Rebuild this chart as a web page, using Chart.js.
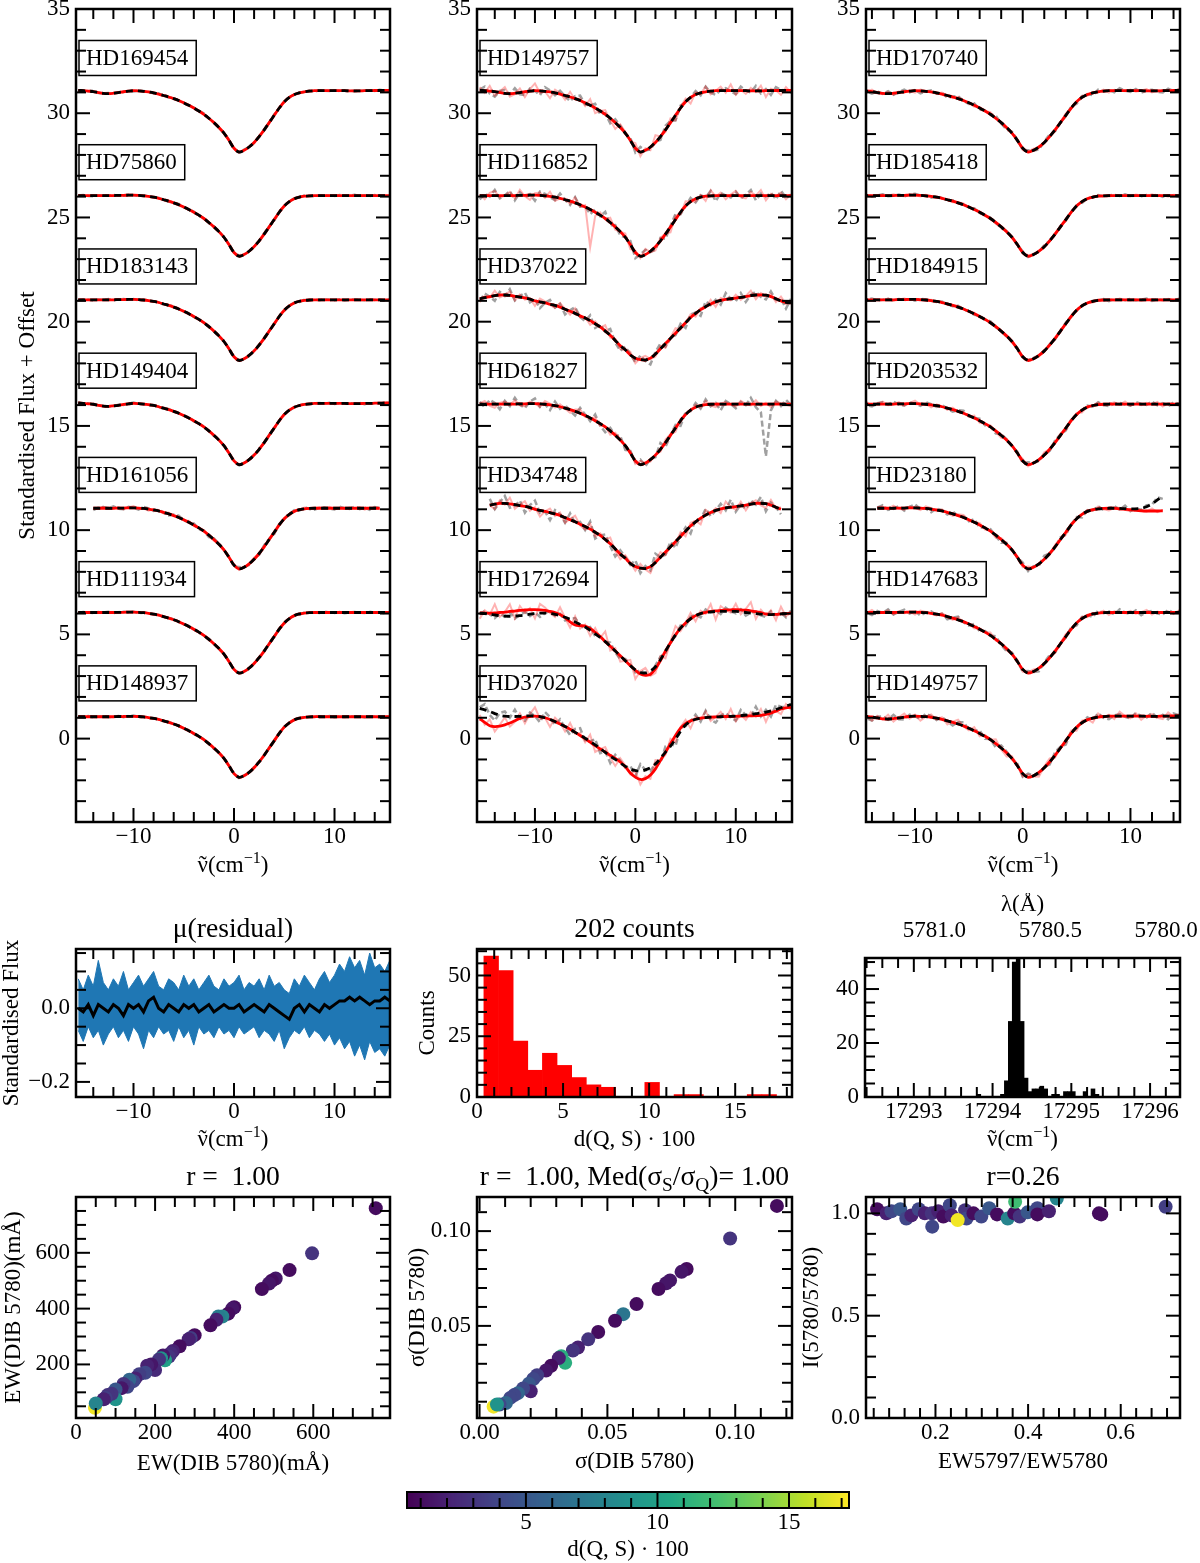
<!DOCTYPE html>
<html><head><meta charset="utf-8">
<script src="https://cdn.jsdelivr.net/npm/chart.js@4.4.1/dist/chart.umd.min.js"></script>
<style>html,body{margin:0;background:#fff}#fig{position:relative;width:1200px;height:1563px;overflow:hidden;background:#fff}canvas{position:absolute}</style>
</head><body><div id="fig"></div><script>
// wavenumber grid shared by all spectra (cm^-1)
const XS = [-15.5,-15,-14.5,-14,-13.5,-13,-12.5,
  -12,-11.5,-11,-10.5,-10,-9.5,-9,
  -8.5,-8,-7.5,-7,-6.5,-6,-5.5,
  -5,-4.5,-4,-3.5,-3,-2.5,-2,
  -1.5,-1,-0.5,0,0.5,1,1.5,
  2,2.5,3,3.5,4,4.5,5,
  5.5,6,6.5,7,7.5,8,8.5,
  9,9.5,10,10.5,11,11.5,12,
  12.5,13,13.5,14,14.5,15,15.5];

// profile shapes (flux without the offset)
const PROF_A = [1.10,1.08,1.06,1.04,0.99,0.95,0.94,
  0.96,0.99,1.03,1.06,1.08,1.07,1.05,
  1.02,0.98,0.92,0.85,0.78,0.70,0.61,
  0.50,0.38,0.25,0.11,-0.05,-0.24,-0.45,
  -0.68,-0.95,-1.30,-1.68,-1.86,-1.78,-1.62,
  -1.40,-1.12,-0.80,-0.45,-0.10,0.25,0.55,
  0.76,0.90,0.98,1.03,1.06,1.08,1.08,
  1.08,1.08,1.08,1.08,1.08,1.07,1.07,
  1.07,1.08,1.08,1.09,1.09,1.10,1.10];
const PROF_B = [1.05,1.05,1.05,1.05,1.05,1.05,1.05,
  1.05,1.06,1.06,1.07,1.07,1.06,1.04,
  1.01,0.97,0.92,0.85,0.78,0.70,0.61,
  0.50,0.38,0.25,0.11,-0.05,-0.24,-0.45,
  -0.68,-0.95,-1.30,-1.68,-1.86,-1.78,-1.62,
  -1.40,-1.12,-0.80,-0.45,-0.10,0.25,0.55,
  0.76,0.90,0.98,1.02,1.04,1.05,1.05,
  1.05,1.05,1.05,1.05,1.05,1.05,1.05,
  1.05,1.05,1.05,1.05,1.05,1.05,1.05];
const PROF_W = [1.10,1.15,1.20,1.25,1.28,1.28,1.26,
  1.22,1.18,1.14,1.08,1.00,0.95,0.90,
  0.84,0.78,0.70,0.60,0.50,0.40,0.28,
  0.18,0.05,-0.10,-0.25,-0.45,-0.65,-0.90,
  -1.15,-1.35,-1.60,-1.75,-1.82,-1.84,-1.75,
  -1.55,-1.30,-1.05,-0.80,-0.55,-0.30,-0.05,
  0.20,0.40,0.58,0.72,0.85,0.95,1.02,
  1.07,1.10,1.13,1.17,1.20,1.25,1.28,
  1.29,1.27,1.20,1.10,1.00,0.93,0.90];
const RED_172694 = [1.03,1.02,1.02,1.03,1.05,1.07,1.10,
  1.12,1.15,1.17,1.19,1.19,1.18,1.15,
  1.10,1.05,0.95,0.80,0.60,0.45,0.42,
  0.40,0.28,0.10,-0.10,-0.35,-0.57,-0.80,
  -1.03,-1.27,-1.50,-1.72,-1.90,-1.96,-1.92,
  -1.65,-1.25,-0.80,-0.40,-0.02,0.30,0.55,
  0.75,0.90,1.00,1.06,1.10,1.13,1.15,
  1.17,1.18,1.19,1.18,1.16,1.13,1.09,
  1.04,0.98,0.95,0.96,0.98,1.00,1.02];
const FIT_172694 = [1.02,1.00,0.97,0.93,0.90,0.88,0.87,
  0.88,0.90,0.93,0.97,1.00,1.02,1.02,
  1.00,0.96,0.90,0.82,0.72,0.60,0.48,
  0.35,0.20,0.03,-0.15,-0.35,-0.57,-0.80,
  -1.03,-1.27,-1.50,-1.70,-1.83,-1.85,-1.75,
  -1.55,-1.22,-0.80,-0.40,-0.02,0.30,0.55,
  0.75,0.90,1.00,1.05,1.08,1.10,1.10,
  1.10,1.10,1.10,1.08,1.05,1.02,1.00,
  0.97,0.95,0.95,0.96,0.98,1.00,1.02];
const RED_37020 = [0.95,0.78,0.62,0.58,0.60,0.66,0.75,
  0.86,0.97,1.03,1.06,1.08,1.06,1.00,
  0.92,0.82,0.70,0.58,0.45,0.30,0.15,
  0.00,-0.17,-0.34,-0.50,-0.64,-0.80,-0.95,
  -1.12,-1.35,-1.65,-1.85,-1.96,-1.92,-1.75,
  -1.45,-1.05,-0.65,-0.25,0.15,0.50,0.72,
  0.85,0.93,0.98,1.01,1.03,1.04,1.05,
  1.06,1.06,1.07,1.08,1.08,1.09,1.10,
  1.12,1.16,1.22,1.32,1.42,1.48,1.50];
const FIT_37020 = [1.45,1.38,1.30,1.20,1.12,1.08,1.06,
  1.06,1.07,1.08,1.09,1.08,1.06,1.00,
  0.92,0.82,0.70,0.58,0.45,0.30,0.17,
  0.02,-0.13,-0.30,-0.48,-0.66,-0.84,-1.00,
  -1.17,-1.33,-1.47,-1.53,-1.56,-1.50,-1.40,
  -1.22,-0.95,-0.65,-0.36,-0.02,0.35,0.65,
  0.83,0.93,0.98,1.01,1.03,1.04,1.05,
  1.06,1.07,1.08,1.10,1.13,1.16,1.20,
  1.23,1.27,1.33,1.40,1.48,1.56,1.64];
const FIT_23180 = PROF_B.slice(0, 49).concat([1.04,1.03,1.02,1.02,1.05,1.12,1.25, 1.45,1.65,1.78,1.85,1.85,1.85,1.85]);
const RED_23180 = PROF_B.slice(0, 49).concat([1.02,1.00,0.98,0.95,0.93,0.92,0.92, 0.92,0.93,0.93,0.93,0.93,0.93,0.93]);

// hand-read noise patterns (arbitrary units, scaled per star)
const N1 = [3,-2,5,-4,1,6,-3, -1,4,-5,2,7,-2,0, -6,3,1,-4,5,-1,2, -3,6,-5,0,4,-2,-6, 3,1,-1,5,-4,2,-3, 7,0,-2,4,-5,1,3, -6,2,-1,5,-3,0,4, -2,6,-4,1,-3,3,-1, 5,-6,2,0,-4,3,-2];
const N2 = [-4,2,-1,6,-3,0,5, -5,3,-2,1,-6,4,2, -1,-3,5,0,-4,6,-2, 1,-5,3,-1,7,-3,2, -4,0,4,-6,2,5,-1, -3,3,-5,1,6,-2,0, 4,-4,2,-1,5,-6,3, 0,-2,4,-3,1,6,-5, 2,-1,3,-4,5,-2,1];
const N3 = [1,5,-3,-6,2,4,-1, 6,-2,-4,3,0,-5,5, 2,-3,4,-1,-5,3,6, -2,0,5,-4,1,-6,4, 2,-1,3,-5,6,0,-3, 1,-4,5,2,-6,3,-1, 0,4,-3,6,-2,-5,1, 3,-1,-4,5,0,-2,6, -3,2,-5,4,1,-1,-3];
const N4 = [-2,4,0,-5,3,-1,6, -4,1,5,-3,2,-6,0, 4,-2,3,-5,1,6,-1, -3,5,-4,2,0,6,-2, -5,3,1,-4,4,-1,-6, 2,5,-3,0,-2,4,-5, 3,1,-6,5,-1,2,-4, 6,0,-3,4,-5,1,3, -2,-4,5,-1,2,-6,4];
const N5 = [2,-3,4,1,-5,3,-2, 6,-1,-4,2,5,-3,0, -5,4,-2,3,-1,-4,5, 1,-3,6,-2,-5,3,0, 4,-4,2,-1,5,-3,1, -2,6,-4,0,3,-5,2, -1,4,-3,5,-2,1,-6, 3,0,-4,2,-1,6,-3, -8,-50,-6,3,-2,4,-1];
const N6 = [1,-4,3,5,-2,0,4, -3,6,-1,-5,2,3,-2, 5,-4,0,1,-3,6,-2, 2,-40,-4,3,-1,5,-3, 0,4,-5,2,-2,6,-1, -4,3,1,-6,4,-2,5, 0,-3,2,-5,6,-1,3, -4,1,5,-2,-3,4,0, 6,-5,2,-1,3,-4,1];

const OFFSETS = [30, 25, 20, 15, 10, 5, 0];
const LABEL_DY = 2.65;

const NAMES_L = ['HD169454','HD75860','HD183143','HD149404','HD161056','HD111934','HD148937'];
const RED_L = [PROF_A, PROF_B, PROF_B, PROF_A, PROF_B, PROF_B, PROF_B];
const FIT_L = RED_L;
const PINK_AMP_L = [0, 0, 0, 0, 0.012, 0, 0];
const GREY_AMP_L = [0.006, 0.006, 0.006, 0.006, 0.015, 0.006, 0.006];
const PINK_N_L = [N1, N2, N3, N4, N1, N2, N3];
const GREY_N_L = [N2, N3, N4, N1, N3, N4, N1];
const RANGE_L = [[0,62],[0,62],[0,62],[0,62],[3,60],[0,62],[0,62]];

const NAMES_M = ['HD149757','HD116852','HD37022','HD61827','HD34748','HD172694','HD37020'];
const RED_M = [PROF_A, PROF_B, PROF_W, PROF_B, PROF_W, RED_172694, RED_37020];
const FIT_M = [PROF_A, PROF_B, PROF_W, PROF_B, PROF_W, FIT_172694, FIT_37020];
const PINK_AMP_M = [0.05, 0.045, 0.04, 0.03, 0.05, 0.07, 0.06];
const GREY_AMP_M = [0.04, 0.045, 0.05, 0.05, 0.06, 0.03, 0.055];
const PINK_N_M = [N1, N6, N2, N3, N4, N2, N1];
const GREY_N_M = [N3, N2, N4, N5, N1, N4, N3];
const RANGE_M = [[0,62],[0,62],[0,62],[0,62],[2,60],[0,62],[0,62]];

const NAMES_R = ['HD170740','HD185418','HD184915','HD203532','HD23180','HD147683','HD149757'];
const RED_R = [PROF_A, PROF_B, PROF_B, PROF_B, RED_23180, PROF_B, PROF_A];
const FIT_R = [PROF_A, PROF_B, PROF_B, PROF_B, FIT_23180, PROF_B, PROF_A];
const PINK_AMP_R = [0.015, 0.01, 0.01, 0.02, 0.02, 0.02, 0.035];
const GREY_AMP_R = [0.02, 0.01, 0.01, 0.02, 0.025, 0.025, 0.03];
const PINK_N_R = [N2, N3, N4, N1, N3, N2, N4];
const GREY_N_R = [N4, N1, N2, N3, N1, N4, N3];
const RANGE_R = [[0,62],[0,62],[0,62],[0,62],[4,57],[0,62],[0,62]];

// mean residual and its spread (hundredths)
const RES_MEAN = [0,-1,1,-2,1,0,-1, 1,0,-2,1,0,1,-1, 2,3,0,-1,1,0,-1, 1,0,1,-1,0,1,-1, 0,1,0,0,1,-1,0, 1,0,-1,1,0,-1,-2, -3,0,1,-1,1,0,-1, 1,0,1,2,2,3,2, 3,2,1,2,2,3,2];
const RES_HI = [8,5,9,6,13,7,5, 8,6,10,5,7,9,6, 8,10,6,5,8,7,5, 9,6,8,5,7,9,6, 5,8,6,7,9,5,7, 6,8,5,9,6,7,5, 4,8,6,9,7,5,8, 10,7,9,12,10,14,11, 13,9,15,11,12,10,13];
const RES_LO = [-6,-9,-5,-8,-6,-10,-7, -5,-8,-6,-9,-5,-7,-11, -6,-8,-5,-7,-6,-9,-5, -8,-6,-10,-5,-7,-6,-8, -5,-7,-6,-8,-5,-7,-6, -5,-8,-6,-7,-9,-6,-11, -8,-6,-7,-5,-8,-6,-7, -9,-7,-10,-8,-11,-9,-13, -10,-14,-9,-12,-11,-13,-10];

// histograms
const HIST1_CENTERS = [0.825,1.675,2.525,3.375,4.225,5.075,5.925,6.775,7.625,8.475,9.325,10.175,11.025,11.875,12.725,13.575,14.425,15.275,16.125,16.975];
const HIST1_COUNTS = [58,52,23,11,18,13,8,5,4,0,0,6,0,1,1,0,0,0,1,1];
const HIST2_CENTERS = [17293.825,17294.125,17294.175,17294.225,17294.275,17294.325,17294.375,17294.425,17294.475,17294.525,17294.575,17294.625,17294.675,17294.775,17294.825,17294.925,17294.975,17295.025,17295.175,17295.275,17295.325];
const HIST2_COUNTS = [1,1,6,28,50,52,28,7,2,3,3,4,3,1,1,2,2,2,2,3,1];

// scatter panels
const EW_Q = [758,597,540,505,495,488,470,400,395,385,370,360,355,340,300,290,285,262,245,240,235,225,220,215,210,200,190,180,175,160,150,145,135,130,120,115,100,100,90,80,75,70,48,50];
const EW_S = [760,598,538,508,500,490,470,405,400,382,372,372,360,340,305,295,290,265,248,240,228,215,232,222,218,180,200,195,170,165,150,140,145,120,130,115,110,75,95,90,80,75,45,60];
const EW_D = [1,3,1,1.5,1,1.5,1,1,1.5,1,8,7.5,2,1,1,3.5,2,1,2,2.5,3,10,1.5,9,3,2.5,1.5,2,4,3.5,2,4,6,4,3,1.5,5,9,3,3,3.5,2,17,8];
const SIG_Q = [0.1163,0.098,0.081,0.079,0.0745,0.073,0.070,0.0614,0.0562,0.053,0.0464,0.0425,0.0385,0.0365,0.0335,0.032,0.031,0.028,0.026,0.0225,0.021,0.0193,0.020,0.017,0.015,0.0136,0.0120,0.0103,0.0078,0.0055,0.0068];
const SIG_S = [0.1133,0.0961,0.080,0.0785,0.074,0.0725,0.0695,0.0615,0.0562,0.0527,0.0468,0.0429,0.0386,0.0370,0.0305,0.034,0.033,0.029,0.0265,0.024,0.022,0.0195,0.0155,0.017,0.0145,0.0135,0.012,0.0093,0.0085,0.0074,0.0085];
const SIG_D = [1,3,1,1.5,1.5,1.5,1,1,7,1,1,3,2,3,11,11,2,1,1.5,3.5,4,5,2,4,6,4,4,6,4,17,9];
const RAT_X = [0.074,0.094,0.105,0.124,0.137,0.148,0.164,0.177,0.192,0.193,0.206,0.217,0.231,0.235,0.264,0.267,0.282,0.299,0.316,0.333,0.356,0.37,0.372,0.382,0.399,0.42,0.42,0.445,0.462,0.553,0.558,0.697,0.248];
const RAT_Y = [1.02,1.0,1.01,1.02,0.975,0.99,1.02,1.0,1.0,0.935,1.01,0.985,1.04,0.99,1.015,0.975,1.0,0.985,1.025,0.995,0.975,1.0,1.057,0.985,1.005,1.025,0.995,1.01,1.073,1.0,0.995,1.032,0.967];
const RAT_D = [1,2,4,5,4,2,4,2,3,4,2,1,4,2,3,4,1,4,5,1,8,1,12,3,5,4,1,2,8,1,1,3.5,17];
const CB_MIN = 0.48, CB_MAX = 17.28;

const SERIF = "'Liberation Serif','DejaVu Serif',serif";
Chart.defaults.font.family = SERIF;
Chart.defaults.font.size = 23;
Chart.defaults.color = '#000';

const VIR = ['#440154','#482475','#414487','#355f8d','#2a788e','#21918c','#22a884','#44bf70','#7ad151','#bddf26','#fde725'];
function hexRgb(h) { return [1,3,5].map(i => parseInt(h.substr(i, 2), 16)); }
function viridis(t) {
    t = Math.max(0, Math.min(1, t));
    const s = t * 10, i = Math.min(9, Math.floor(s)), f = s - i;
    const a = hexRgb(VIR[i]), b = hexRgb(VIR[i + 1]);
    return 'rgb(' + a.map((v, k) => Math.round(v + (b[k] - v) * f)).join(',') + ')';
}
function dColor(d) { return viridis((d - CB_MIN) / (CB_MAX - CB_MIN)); }

// text with optional sub/superscripts and a tilde accent
function drawRich(ctx, parts, x, y, size, rot) {
    ctx.save();
    ctx.translate(x, y);
    if (rot) ctx.rotate(rot);
    const small = p => p[1] === 'sup' || p[1] === 'sub';
    let w = 0;
    parts.forEach(p => { ctx.font = (small(p) ? size * 0.7 : size) + 'px ' + SERIF; w += ctx.measureText(p[0]).width; });
    let cx = -w / 2;
    ctx.textBaseline = 'middle';
    ctx.textAlign = 'left';
    ctx.fillStyle = '#000';
    parts.forEach(p => {
        ctx.font = (small(p) ? size * 0.7 : size) + 'px ' + SERIF;
        const dy = p[1] === 'sup' ? -size * 0.33 : (p[1] === 'sub' ? size * 0.28 : 0);
        const pw = ctx.measureText(p[0]).width;
        ctx.fillText(p[0], cx, dy);
        if (p[1] === 'acc') {
            ctx.textAlign = 'center';
            ctx.fillText('\u02DC', cx + pw / 2, 0);
            ctx.textAlign = 'left';
        }
        cx += pw;
    });
    ctx.restore();
}

// frame, inward ticks on all sides, label boxes and titles
function makeDeco(o) {
    return {
        id: 'deco',
        beforeDatasetsDraw(chart) {
            if (!o.cbar) return;
            const a = chart.chartArea, xs = chart.scales.x, ctx = chart.ctx;
            for (let p = Math.floor(a.left); p < a.right; p++) {
                ctx.fillStyle = dColor(xs.getValueForPixel(p + 0.5));
                ctx.fillRect(p, a.top, 1.5, a.bottom - a.top);
            }
        },
        afterDatasetsDraw(chart) {
            const ctx = chart.ctx, a = chart.chartArea;
            const xs = chart.scales.x, ys = chart.scales.y;
            ctx.save();
            if (o.names) {
                ctx.font = '23px ' + SERIF;
                ctx.textBaseline = 'middle';
                ctx.textAlign = 'left';
                o.names.forEach((n, i) => {
                    const y = ys.getPixelForValue(OFFSETS[i] + LABEL_DY);
                    const w = ctx.measureText(n).width;
                    ctx.fillStyle = '#fff';
                    ctx.fillRect(a.left + 3, y - 17.5, w + 15, 35);
                    ctx.lineWidth = 1.5;
                    ctx.strokeStyle = '#000';
                    ctx.strokeRect(a.left + 3, y - 17.5, w + 15, 35);
                    ctx.fillStyle = '#000';
                    ctx.fillText(n, a.left + 10, y + 1);
                });
            }
            ctx.strokeStyle = '#000';
            ctx.lineWidth = 2;
            const seg = (x1, y1, x2, y2) => { ctx.beginPath(); ctx.moveTo(x1, y1); ctx.lineTo(x2, y2); ctx.stroke(); };
            const minors = (sc, step, maj) => {
                const out = [];
                if (!step) return out;
                const lo = Math.min(sc.min, sc.max), hi = Math.max(sc.min, sc.max);
                for (let k = Math.ceil(lo / step - 1e-6); k * step <= hi + 1e-9; k++) {
                    const v = k * step;
                    if (!maj.some(m => Math.abs(m - v) < step * 0.01)) out.push(v);
                }
                return out;
            };
            const majX = xs.ticks.map(t => t.value), majY = ys.ticks.map(t => t.value);
            const ML = o.cbar ? (a.bottom - a.top) : 14, mL = 10;
            const xt = (v, len) => {
                const p = xs.getPixelForValue(v);
                if (p < a.left - 0.5 || p > a.right + 0.5) return;
                seg(p, a.bottom, p, a.bottom - len);
                if (!o.cbar) seg(p, a.top, p, a.top + len);
            };
            const yt = (v, len) => {
                const p = ys.getPixelForValue(v);
                if (p < a.top - 0.5 || p > a.bottom + 0.5) return;
                seg(a.left, p, a.left + len, p);
                seg(a.right, p, a.right - len, p);
            };
            majX.forEach(v => xt(v, ML));
            minors(xs, o.minorX, majX).forEach(v => xt(v, mL));
            if (!o.cbar) {
                majY.forEach(v => yt(v, ML));
                minors(ys, o.minorY, majY).forEach(v => yt(v, mL));
            }
            ctx.lineWidth = o.cbar ? 2 : 2.5;
            ctx.strokeRect(a.left, a.top, a.right - a.left, a.bottom - a.top);
            const cx = (a.left + a.right) / 2, cy = (a.top + a.bottom) / 2;
            if (o.title) drawRich(ctx, o.title.parts, cx, a.top - o.title.dy, o.title.size || 27.6, 0);
            if (o.xlabel) drawRich(ctx, o.xlabel.parts, cx, a.bottom + o.xlabel.dy, 23, 0);
            if (o.ylabel) drawRich(ctx, o.ylabel.parts, a.left - o.ylabel.dx, cy, 23, -Math.PI / 2);
            ctx.restore();
        }
    };
}

function axis(s, pos, size) {
    const horiz = pos === 'bottom' || pos === 'top';
    return {
        type: 'linear', position: pos, min: s.min, max: s.max, reverse: !!s.reverse, offset: false,
        display: !s.hidden,
        grid: { display: false, drawTicks: false },
        border: { display: false },
        ticks: {
            padding: s.pad != null ? s.pad : (horiz ? 1 : 6), autoSkip: false, maxRotation: 0,
            color: '#000', font: { size: 23, family: SERIF },
            callback: v => Number(v).toFixed(s.dec || 0).replace('-', '\u2212')
        },
        afterBuildTicks: sc => { sc.ticks = (s.ticks || []).map(v => ({ value: v })); },
        afterFit: sc => {
            if (horiz) sc.height = size; else sc.width = size;
            sc.paddingLeft = sc.paddingRight = sc.paddingTop = sc.paddingBottom = 0;
        }
    };
}

function makePanel(f, type, datasets, sx, sy, deco, top) {
    const x0 = Math.max(0, f.l - 80), y0 = Math.max(0, f.t - 65);
    const x1 = Math.min(1200, f.r + 30), y1 = Math.min(1563, f.b + 70);
    const cv = document.createElement('canvas');
    cv.width = x1 - x0;
    cv.height = y1 - y0;
    cv.style.left = x0 + 'px';
    cv.style.top = y0 + 'px';
    document.getElementById('fig').appendChild(cv);
    const YW = sy.hidden ? 0 : 60, XH = 40, TH = top ? 45 : 0;
    const scales = { x: axis(sx, 'bottom', XH), y: axis(sy, 'left', YW) };
    if (top) scales.x2 = axis(top, 'top', TH);
    deco.minorX = sx.minor;
    deco.minorY = sy.minor;
    datasets.forEach((d, i) => { d.order = datasets.length - i; if (d.clip === undefined) d.clip = 0; });
    return new Chart(cv, {
        type: type,
        data: { datasets: datasets },
        options: {
            responsive: false, animation: false, events: [],
            layout: { padding: { left: f.l - x0 - YW, right: x1 - f.r, top: f.t - y0 - TH, bottom: y1 - f.b - XH } },
            plugins: { legend: { display: false }, tooltip: { enabled: false } },
            scales: scales
        },
        plugins: [makeDeco(deco)]
    });
}

function spectra(names, reds, fits, pinkN, pinkA, greyN, greyA, ranges) {
    const ds = [];
    names.forEach((n, k) => {
        const off = OFFSETS[k], i0 = ranges[k][0], i1 = ranges[k][1];
        const xs = XS.slice(i0, i1 + 1);
        const pts = arr => xs.map((x, j) => ({ x: x, y: off + arr[i0 + j] }));
        const noisy = (arr, nz, amp) => xs.map((x, j) => ({ x: x, y: off + arr[i0 + j] + nz[i0 + j] * amp }));
        if (greyA[k]) ds.push({ data: noisy(fits[k], greyN[k], greyA[k]), borderColor: 'rgba(128,128,128,0.75)', borderWidth: 2.5, borderDash: [6, 3], pointRadius: 0, tension: 0 });
        if (pinkA[k]) ds.push({ data: noisy(reds[k], pinkN[k], pinkA[k]), borderColor: 'rgba(255,0,0,0.3)', borderWidth: 2, pointRadius: 0, tension: 0 });
        ds.push({ data: pts(reds[k]), borderColor: '#ff0000', borderWidth: 2.8, pointRadius: 0, tension: 0.3 });
        ds.push({ data: pts(fits[k]), borderColor: '#000', borderWidth: 2.8, borderDash: [7, 5], pointRadius: 0, tension: 0.3 });
    });
    return ds;
}

const NU = [['\u03BD', 'acc'], ['(cm', ''], ['\u22121', 'sup'], [')', '']];
const DQS = [['d(Q, S) \u00B7 100', '']];
const specY = { min: -4, max: 35, ticks: [0, 5, 10, 15, 20, 25, 30, 35], minor: 1 };

// top row: stacked profiles
makePanel({ l: 76, t: 9, r: 390, b: 822 }, 'line',
    spectra(NAMES_L, RED_L, FIT_L, PINK_N_L, PINK_AMP_L, GREY_N_L, GREY_AMP_L, RANGE_L),
    { min: -15.72, max: 15.52, ticks: [-10, 0, 10], minor: 2 }, specY,
    { names: NAMES_L, xlabel: { parts: NU, dy: 44 }, ylabel: { parts: [['Standardised Flux + Offset', '']], dx: 48 } });
makePanel({ l: 477, t: 9, r: 792, b: 822 }, 'line',
    spectra(NAMES_M, RED_M, FIT_M, PINK_N_M, PINK_AMP_M, GREY_N_M, GREY_AMP_M, RANGE_M),
    { min: -15.77, max: 15.6, ticks: [-10, 0, 10], minor: 2 }, specY,
    { names: NAMES_M, xlabel: { parts: NU, dy: 44 } });
makePanel({ l: 866, t: 9, r: 1180, b: 822 }, 'line',
    spectra(NAMES_R, RED_R, FIT_R, PINK_N_R, PINK_AMP_R, GREY_N_R, GREY_AMP_R, RANGE_R),
    { min: -14.55, max: 14.6, ticks: [-10, 0, 10], minor: 2 }, specY,
    { names: NAMES_R, xlabel: { parts: NU, dy: 44 } });

// middle row
makePanel({ l: 76, t: 949, r: 390, b: 1097 }, 'line', [
    { data: XS.map((x, i) => ({ x: x, y: RES_LO[i] / 100 })), borderColor: '#1f77b4', borderWidth: 1, pointRadius: 0, fill: false, tension: 0 },
    { data: XS.map((x, i) => ({ x: x, y: RES_HI[i] / 100 })), borderColor: '#1f77b4', borderWidth: 1, backgroundColor: '#1f77b4', pointRadius: 0, fill: '-1', tension: 0 },
    { data: XS.map((x, i) => ({ x: x, y: RES_MEAN[i] / 100 })), borderColor: '#000', borderWidth: 3, pointRadius: 0, tension: 0 }
], { min: -15.72, max: 15.52, ticks: [-10, 0, 10], minor: 2 },
   { min: -0.241, max: 0.161, ticks: [-0.2, 0], dec: 1, minor: 0.05 },
   { title: { parts: [['\u03BC(residual)', '']], dy: 19 }, xlabel: { parts: NU, dy: 43 }, ylabel: { parts: [['Standardised Flux', '']], dx: 64 } });

makePanel({ l: 477, t: 949, r: 792, b: 1097 }, 'bar', [
    { data: HIST1_CENTERS.map((c, i) => ({ x: c, y: HIST1_COUNTS[i] })), backgroundColor: '#ff0000', borderWidth: 0, barPercentage: 1, categoryPercentage: 1 }
], { min: 0, max: 18.3, ticks: [0, 5, 10, 15], minor: 1 },
   { min: 0, max: 60.9, ticks: [0, 25, 50], minor: 5 },
   { title: { parts: [['202 counts', '']], dy: 19 }, xlabel: { parts: DQS, dy: 43 }, ylabel: { parts: [['Counts', '']], dx: 49 } });

makePanel({ l: 865, t: 958, r: 1180, b: 1097 }, 'bar', [
    { data: HIST2_CENTERS.map((c, i) => ({ x: c, y: HIST2_COUNTS[i] })), backgroundColor: '#000', borderWidth: 0, barPercentage: 1, categoryPercentage: 1 }
], { min: 17292.38, max: 17296.38, ticks: [17293, 17294, 17295, 17296], minor: 0.2 },
   { min: 0, max: 51.5, ticks: [0, 20, 40], minor: 5 },
   { title: { parts: [['\u03BB(\u00C5)', '']], dy: 53, size: 23 }, xlabel: { parts: NU, dy: 43 } },
   { min: 5779.94, max: 5781.3, reverse: true, ticks: [5780.0, 5780.5, 5781.0], dec: 1, pad: 13 });

// bottom row: scatter coloured by d(Q,S)
function scatterSet(xs, ys, ds) {
    return [{ data: xs.map((x, i) => ({ x: x, y: ys[i] })), backgroundColor: ds.map(dColor), borderWidth: 0, pointRadius: 7 }];
}
makePanel({ l: 76, t: 1197, r: 390, b: 1418 }, 'scatter', scatterSet(EW_Q, EW_S, EW_D),
    { min: 0, max: 794, ticks: [0, 200, 400, 600], minor: 50 },
    { min: 8, max: 800, ticks: [200, 400, 600], minor: 50 },
    { title: { parts: [['r =  1.00', '']], dy: 19 }, xlabel: { parts: [['EW(DIB 5780)(m\u00C5)', '']], dy: 46 }, ylabel: { parts: [['EW(DIB 5780)(m\u00C5)', '']], dx: 62 } });
makePanel({ l: 477, t: 1197, r: 792, b: 1418 }, 'scatter', scatterSet(SIG_Q, SIG_S, SIG_D),
    { min: -0.001, max: 0.1222, ticks: [0, 0.05, 0.10], dec: 2, minor: 0.01 },
    { min: 0.0014, max: 0.118, ticks: [0.05, 0.10], dec: 2, minor: 0.01 },
    { title: { parts: [['r =  1.00, Med(\u03C3', ''], ['S', 'sub'], ['/\u03C3', ''], ['Q', 'sub'], [')= 1.00', '']], dy: 19 },
      xlabel: { parts: [['\u03C3(DIB 5780)', '']], dy: 44 }, ylabel: { parts: [['\u03C3(DIB 5780)', '']], dx: 59 } });
makePanel({ l: 866, t: 1197, r: 1180, b: 1418 }, 'scatter', scatterSet(RAT_X, RAT_Y, RAT_D),
    { min: 0.05, max: 0.728, ticks: [0.2, 0.4, 0.6], dec: 1, minor: 0.2 / 6 },
    { min: 0, max: 1.08, ticks: [0, 0.5, 1.0], dec: 1, minor: 0.1 },
    { title: { parts: [['r=0.26', '']], dy: 19 }, xlabel: { parts: [['EW5797/EW5780', '']], dy: 44 }, ylabel: { parts: [['I(5780/5780)', '']], dx: 54 } });

// colour bar
makePanel({ l: 407, t: 1492, r: 849, b: 1508 }, 'scatter', [],
    { min: CB_MIN, max: CB_MAX, ticks: [5, 10, 15], minor: 1 },
    { min: 0, max: 1, hidden: true },
    { cbar: true, xlabel: { parts: DQS, dy: 42 } });
</script></body></html>
